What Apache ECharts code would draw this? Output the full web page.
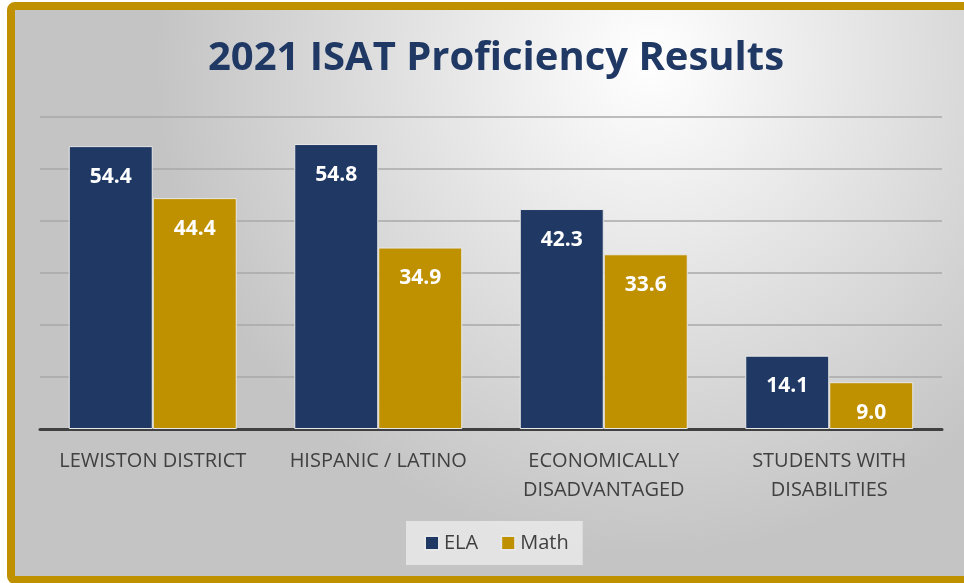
<!DOCTYPE html>
<html><head><meta charset="utf-8">
<script src="https://cdn.jsdelivr.net/npm/echarts@6/dist/echarts.min.js"></script>
<style>html,body{margin:0;padding:0;background:#fff}#c{width:964px;height:583px}</style>
</head><body><div id="c"></div>
<script>
const categories = ['LEWISTON DISTRICT', 'HISPANIC / LATINO', 'ECONOMICALLY\nDISADVANTAGED', 'STUDENTS WITH\nDISABILITIES'];
const elaValues = [54.4, 54.8, 42.3, 14.1];
const mathValues = [44.4, 34.9, 33.6, 9.0];
const seriesNames = ['ELA', 'Math'];

const chart = echarts.init(document.getElementById('c'));
const labelStyle = {
  show: true, position: 'insideTop', distance: 20, color: '#ffffff',
  fontFamily: 'Open Sans', fontWeight: 'bold', fontSize: 21,
  formatter: p => p.value.toFixed(1)
};
chart.setOption({
  animation: false,
  graphic: [{
    type: 'rect', z: -10, silent: true,
    shape: { x: 11, y: 6, width: 980, height: 574, r: 4 },
    style: {
      fill: { type: 'radial', x: 0.65, y: 0.1, r: 0.85,
        colorStops: [{ offset: 0, color: '#ffffff' }, { offset: 0.45, color: '#e4e4e4' }, { offset: 1, color: '#c4c4c4' }] },
      stroke: '#BF9000', lineWidth: 8
    }
  }],
  title: {
    text: '2021 ISAT Proficiency Results', left: 491, textAlign: 'center', top: 34,
    textStyle: { fontFamily: 'Open Sans', fontWeight: 'bold', fontSize: 40, color: '#1F3864' }
  },
  legend: {
    data: seriesNames, left: 406, bottom: 18, itemWidth: 14, itemHeight: 14, itemGap: 22,
    backgroundColor: 'rgba(235,235,235,0.8)', padding: [12, 14, 12, 18],
    textStyle: { fontFamily: 'Open Sans', fontSize: 20, color: '#404040' },
    icon: 'rect'
  },
  grid: { left: 40, right: 22, top: 117, bottom: 154 },
  xAxis: {
    type: 'category', data: categories,
    axisLine: { lineStyle: { color: '#404040', width: 3 } },
    axisTick: { show: false },
    axisLabel: { fontFamily: 'Open Sans', fontSize: 20, color: '#404040', margin: 18, lineHeight: 29, interval: 0 }
  },
  yAxis: {
    type: 'value', min: 0, max: 60, interval: 10,
    axisLabel: { show: false }, axisLine: { show: false }, axisTick: { show: false },
    splitLine: { lineStyle: { color: '#a8a8a8', width: 1.5 } }
  },
  series: [
    { name: seriesNames[0], type: 'bar', data: elaValues, barWidth: 84, barGap: '0%',
      itemStyle: { color: '#1F3864', borderColor: '#e8e8e8', borderWidth: 1 }, label: labelStyle },
    { name: seriesNames[1], type: 'bar', data: mathValues, barWidth: 84,
      itemStyle: { color: '#BF9000', borderColor: '#e8e8e8', borderWidth: 1 }, label: labelStyle }
  ]
});
</script></body></html>
